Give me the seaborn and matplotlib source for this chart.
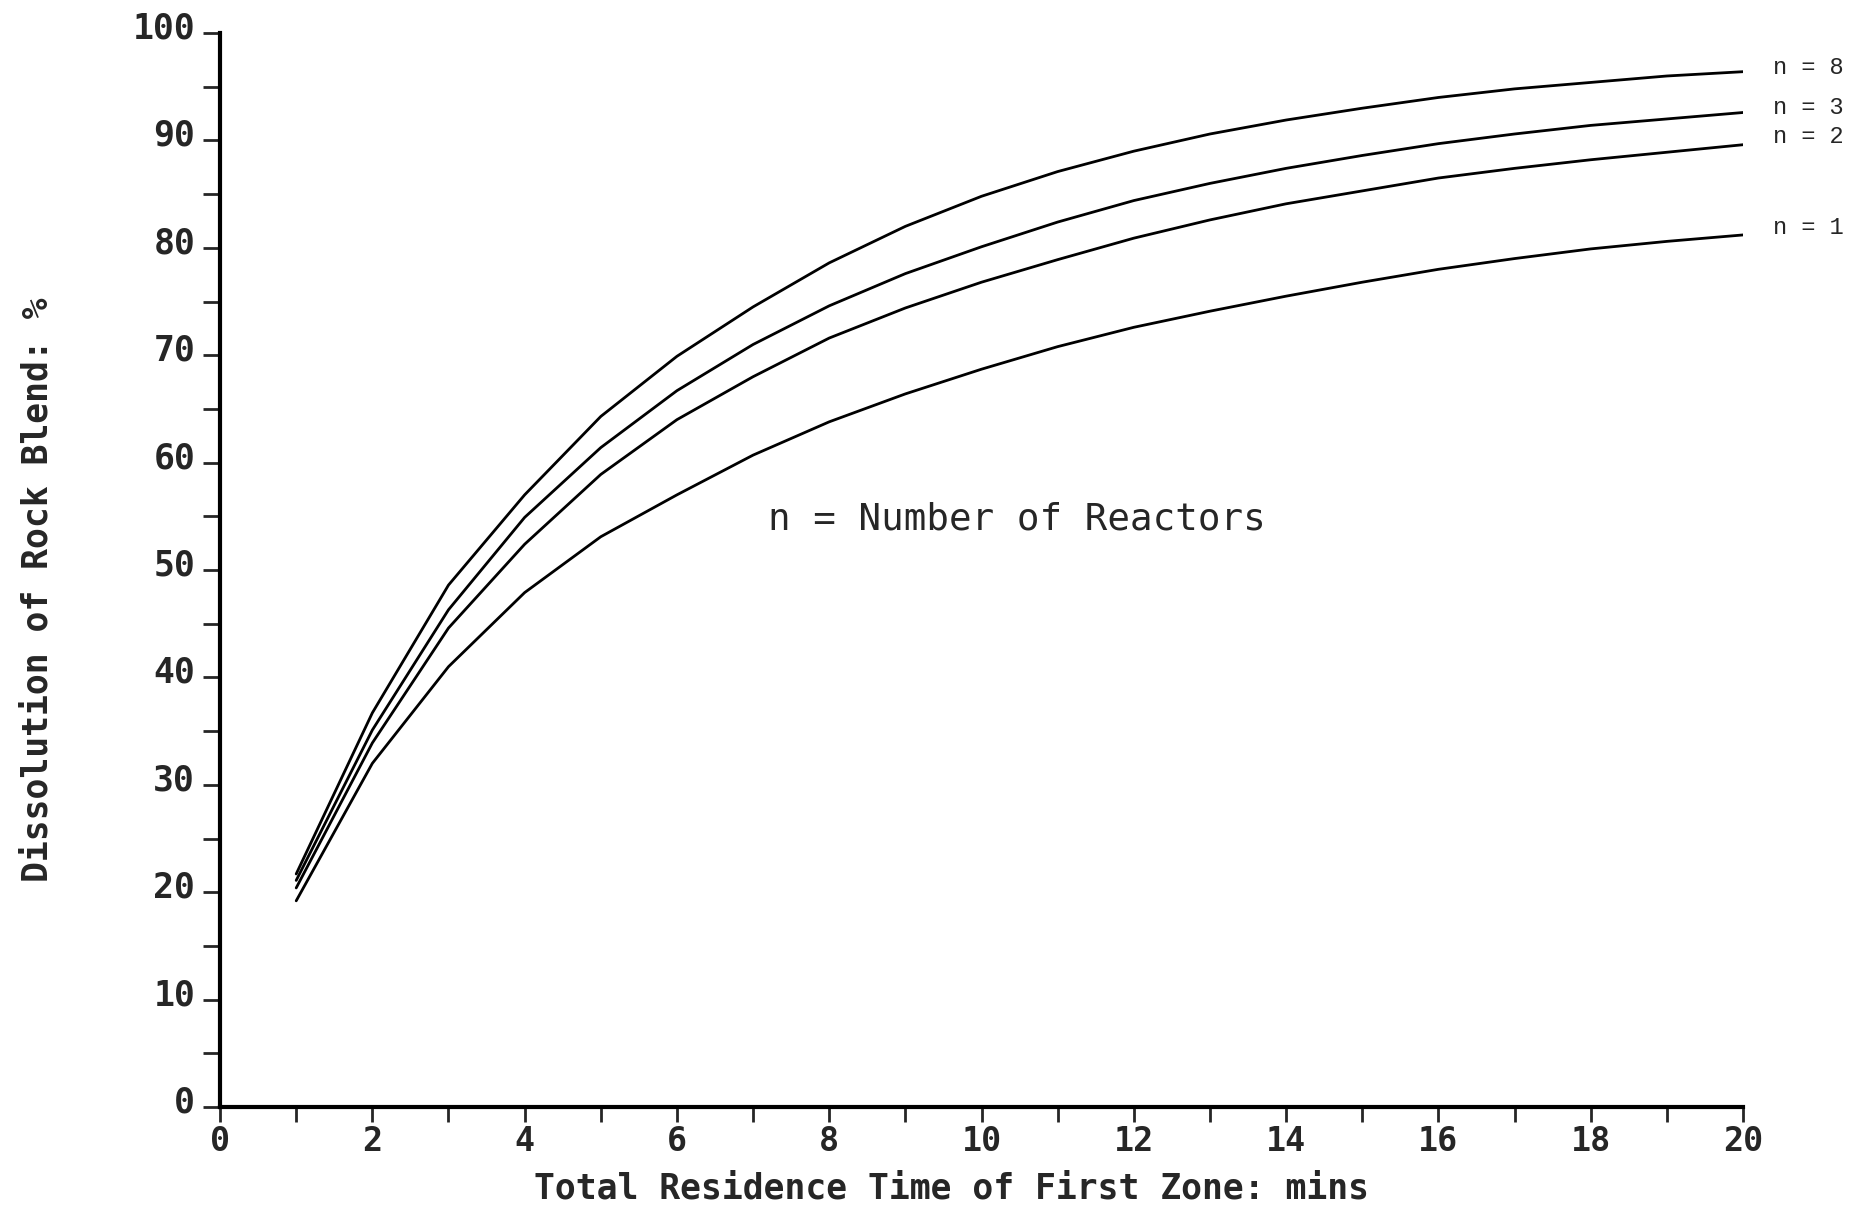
import pandas as pd
import numpy as np
import matplotlib.pyplot as plt
import seaborn as sns
from matplotlib.ticker import MultipleLocator
from matplotlib.transforms import ScaledTranslation

# residence time (mins) and dissolution (%) per number of reactors
time_mins = list(range(1, 21))
n1 = [19.2, 32.0, 41.0, 47.9, 53.1, 57.0, 60.7, 63.8, 66.4, 68.7,
      70.8, 72.6, 74.1, 75.5, 76.8, 78.0, 79.0, 79.9, 80.6, 81.2]
n2 = [20.4, 33.9, 44.6, 52.4, 58.9, 64.0, 68.0, 71.6, 74.4, 76.8,
      78.9, 80.9, 82.6, 84.1, 85.3, 86.5, 87.4, 88.2, 88.9, 89.6]
n3 = [21.1, 35.1, 46.3, 54.9, 61.4, 66.7, 71.0, 74.6, 77.6, 80.1,
      82.4, 84.4, 86.0, 87.4, 88.6, 89.7, 90.6, 91.4, 92.0, 92.6]
n8 = [21.7, 36.7, 48.6, 57.0, 64.3, 69.9, 74.5, 78.6, 82.0, 84.8,
      87.1, 89.0, 90.6, 91.9, 93.0, 94.0, 94.8, 95.4, 96.0, 96.4]
series_names = ["n = 1", "n = 2", "n = 3", "n = 8"]
label_y = [81.9, 90.4, 93.1, 96.8]

df = pd.DataFrame({
    "time": time_mins * 4,
    "dissolution": n1 + n2 + n3 + n8,
    "series": np.repeat(series_names, len(time_mins)),
})

sns.set_style("ticks")
plt.rcParams['font.family'] = ['DejaVu Sans Mono', 'DejaVu Sans']

fig = plt.figure(figsize=(18.57, 12.10), dpi=100)
ax = fig.add_axes([0.1185, 0.0851, 0.8201, 0.8876])

sns.lineplot(data=df, x="time", y="dissolution", hue="series",
             palette=["black"] * 4, linewidth=2.0, legend=False, ax=ax)

ax.set_xlim(0, 20)
ax.set_ylim(0, 100)
ax.xaxis.set_major_locator(MultipleLocator(2))
ax.xaxis.set_minor_locator(MultipleLocator(1))
ax.yaxis.set_major_locator(MultipleLocator(10))
ax.yaxis.set_minor_locator(MultipleLocator(5))

for s in ["top", "right"]:
    ax.spines[s].set_visible(False)
for s in ["left", "bottom"]:
    ax.spines[s].set_linewidth(3)
    ax.spines[s].set_color("black")

ax.tick_params(axis="y", which="both", direction="out", length=12, width=2,
               labelsize=25, pad=6)
ax.tick_params(axis="x", which="both", direction="out", length=11, width=2,
               labelsize=24, pad=2)
for lbl in ax.get_xticklabels() + ax.get_yticklabels():
    lbl.set_fontweight("bold")
# plotter style: y labels sit a bit above their ticks
off = ScaledTranslation(0, 8 / 100, fig.dpi_scale_trans)
for lbl in ax.get_yticklabels():
    lbl.set_transform(lbl.get_transform() + off)

ax.set_xlabel("Total Residence Time of First Zone: mins", fontsize=25,
              fontweight="bold", va="center")
ax.set_ylabel("Dissolution of Rock Blend: %", fontsize=25,
              fontweight="bold")
ax.xaxis.set_label_coords(0.48, -0.076)
ax.yaxis.set_label_coords(-0.109, 0.482)

ax.text(7.19, 54.7, "n = Number of Reactors", fontsize=27,
        ha="left", va="center")

for name, yv in zip(series_names, label_y):
    ax.text(20.4, yv, name, fontsize=17, family="Liberation Mono",
            ha="left", va="center", clip_on=False)

fig.savefig("out.png", dpi=100, facecolor="white")
